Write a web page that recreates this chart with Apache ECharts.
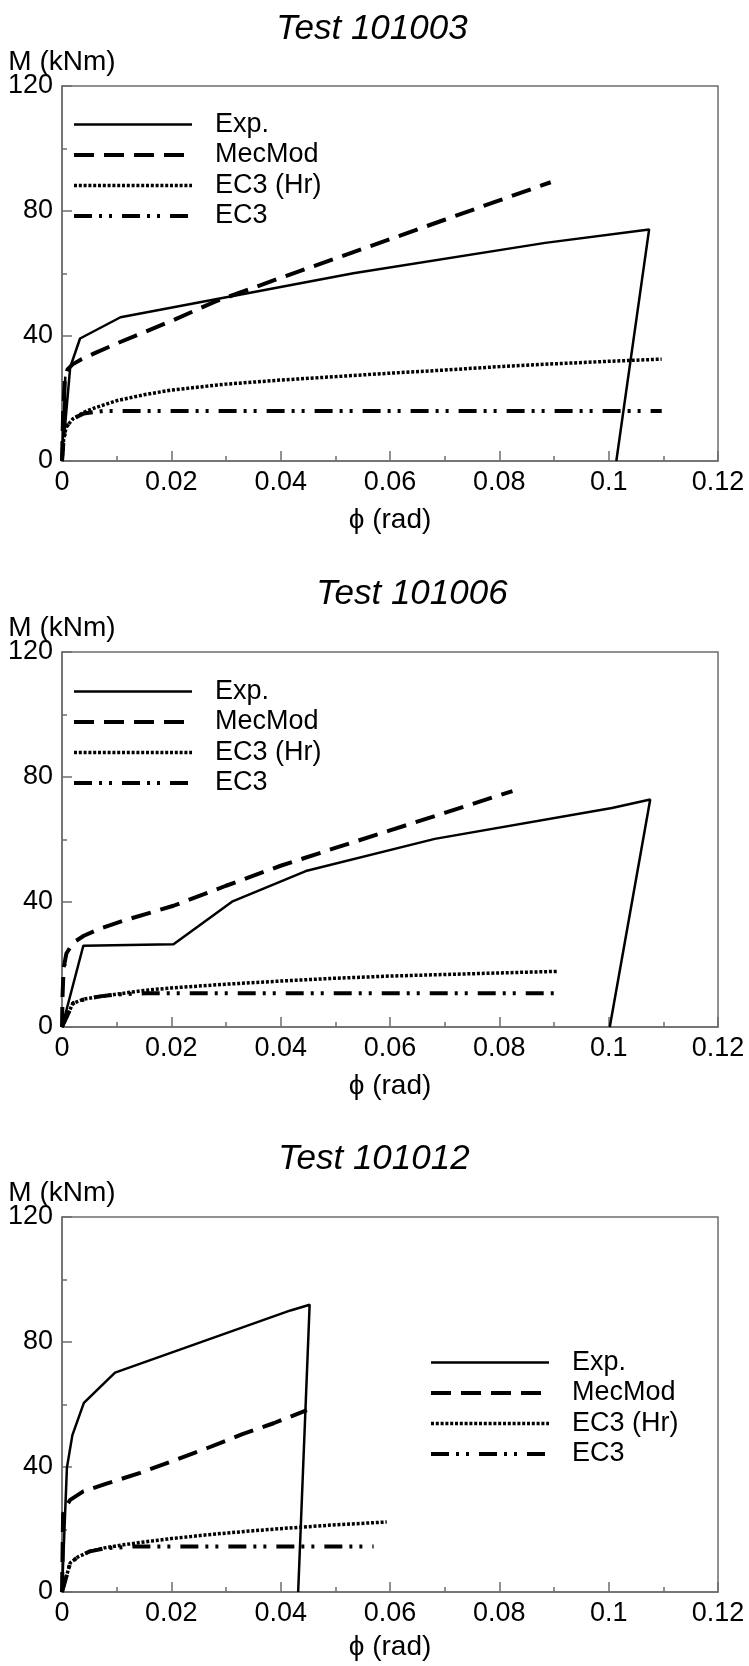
<!DOCTYPE html>
<html>
<head>
<meta charset="utf-8">
<script src="https://cdn.jsdelivr.net/npm/echarts@6/dist/echarts.min.js"></script>
<style>
  html, body { margin: 0; padding: 0; background: #fff; }
  #main { width: 749px; height: 1666px; }
</style>
</head>
<body>
<div id="main"></div>
<script>
// ---- data (phi in rad, M in kNm) ----
var titles = ['Test 101003', 'Test 101006', 'Test 101012'];
var seriesNames = ['Exp.', 'MecMod', 'EC3 (Hr)', 'EC3'];
var xTicks = [0, 0.02, 0.04, 0.06, 0.08, 0.1, 0.12];
var yTicks = [0, 40, 80, 120];

// Test 101003
var exp101003 = [[0,0],[0.0006,27],[0.0004,8],[0.0015,30],[0.0033,39.2],[0.0107,46],[0.0533,60.1],[0.0884,69.8],[0.1074,74.1],[0.1014,0]];
var mec101003 = [[0,0],[0.0002,15],[0.0005,26],[0.001,29.3],[0.002,31],[0.0035,32.5],[0.006,34.5],[0.01,37.6],[0.015,41.2],[0.02,44.8],[0.028,51],[0.04,58.6],[0.05,64.8],[0.06,71],[0.07,77.2],[0.08,83.4],[0.0894,89.2]];
var hr101003 = [[0,0],[0.0003,7],[0.0008,11],[0.002,13.5],[0.004,15.6],[0.006,17],[0.01,19.3],[0.015,21.2],[0.02,22.7],[0.03,24.6],[0.04,25.9],[0.05,27],[0.06,28.1],[0.07,29.1],[0.08,30.2],[0.09,31.1],[0.1,31.9],[0.1097,32.6]];
var ec3101003 = [[0,0],[0.0003,7],[0.0008,11],[0.002,13.5],[0.004,15.2],[0.0075,16],[0.1097,16]];

// Test 101006
var exp101006 = [[0,0],[0.0039,26],[0.0204,26.5],[0.0311,40.1],[0.0446,49.9],[0.0682,60.2],[0.1006,70.1],[0.1076,72.8],[0.1002,0]];
var mec101006 = [[0,0],[0.0001,10],[0.0003,19],[0.0008,23.5],[0.0015,25.5],[0.0025,27.5],[0.004,29.2],[0.007,31.5],[0.0112,34],[0.0204,38.8],[0.03,45.2],[0.04,51.6],[0.05,57.3],[0.06,62.9],[0.07,68.5],[0.0824,75.5]];
var hr101006 = [[0,0],[0.002,7.6],[0.004,8.9],[0.007,9.8],[0.01,10.5],[0.015,11.7],[0.02,12.5],[0.03,13.7],[0.04,14.7],[0.05,15.6],[0.06,16.3],[0.07,16.8],[0.08,17.3],[0.0905,17.8]];
var ec3101006 = [[0,0],[0.002,7.6],[0.004,8.8],[0.007,9.8],[0.01,10.4],[0.0154,10.8],[0.09,10.8]];

// Test 101012
var exp101012 = [[0,0],[0.0009,39.8],[0.0019,50.2],[0.004,60.5],[0.0097,70.2],[0.0418,90.1],[0.0453,91.9],[0.0432,0]];
var mec101012 = [[0,0],[0.0001,12],[0.0002,25],[0.0008,27.5],[0.0015,29.5],[0.0039,32.2],[0.008,34.6],[0.0143,38.1],[0.02,41.8],[0.0265,46],[0.033,50.5],[0.0387,54],[0.0448,58.2]];
var hr101012 = [[0,0],[0.0015,9.3],[0.003,11.3],[0.0051,13],[0.008,14.2],[0.0112,15.1],[0.015,16],[0.02,17.1],[0.0265,18.3],[0.035,19.6],[0.0417,20.5],[0.05,21.5],[0.0594,22.4]];
var ec3101012 = [[0,0],[0.0015,9.3],[0.003,11.3],[0.0051,13],[0.008,14],[0.0134,14.6],[0.057,14.6]];

var allData = [
    [exp101003, mec101003, hr101003, ec3101003],
    [exp101006, mec101006, hr101006, ec3101006],
    [exp101012, mec101012, hr101012, ec3101012]
];

// ---- layout ----
var FONT = 'Liberation Sans, Arial, Helvetica, sans-serif';
var gridTops = [86, 652, 1217];
var titlePos = [[372, 12], [412, 577], [374, 1142]];
var legendPos = [[72, 111], [72, 678], [429, 1349]];
var xNameGaps = [45, 45, 41];
var axisGray = '#6e6e6e';

var lineStyles = [
    { width: 2.5, type: 'solid' },
    { width: 4, type: [20, 10] },
    { width: 3.5, type: [3, 1.8] },
    { width: 4, type: [18, 7, 3, 7, 3, 10] }
];

var chart = echarts.init(document.getElementById('main'));

var option = {
    animation: false,
    backgroundColor: '#fff',
    title: [],
    legend: [],
    grid: [],
    xAxis: [],
    yAxis: [],
    series: []
};

var legendData = seriesNames.map(function (n, k) {
    return {
        name: n,
        lineStyle: { color: '#000', width: lineStyles[k].width, type: lineStyles[k].type },
        itemStyle: { opacity: 0 }
    };
});

for (var i = 0; i < 3; i++) {
    option.title.push({
        text: titles[i],
        left: titlePos[i][0],
        top: titlePos[i][1],
        textAlign: 'center',
        padding: 0,
        textStyle: { fontFamily: FONT, fontSize: 35, fontStyle: 'italic', fontWeight: 'normal', color: '#000' }
    });
    option.grid.push({
        left: 62, top: gridTops[i], width: 656, height: 375,
        show: true, borderColor: axisGray, borderWidth: 1.5, backgroundColor: 'transparent'
    });
    option.xAxis.push({
        type: 'value', gridIndex: i, min: xTicks[0], max: xTicks[xTicks.length - 1], interval: 0.02,
        name: 'ϕ (rad)', nameLocation: 'middle', nameGap: xNameGaps[i], nameMoveOverlap: false,
        nameTextStyle: { fontFamily: FONT, fontSize: 28, color: '#000' },
        axisLine: { show: true, lineStyle: { color: axisGray, width: 1.5 } },
        axisTick: { show: true, inside: true, length: 10, lineStyle: { color: axisGray, width: 1.5 } },
        minorTick: { show: true, splitNumber: 2, length: 5, lineStyle: { color: axisGray, width: 1.5 } },
        splitLine: { show: false },
        axisLabel: { fontFamily: FONT, fontSize: 27, color: '#000', margin: 8,
            formatter: function (v) { return String(+v.toFixed(2)); } }
    });
    option.yAxis.push({
        type: 'value', gridIndex: i, min: yTicks[0], max: yTicks[yTicks.length - 1], interval: 40,
        name: 'M (kNm)', nameLocation: 'end', nameGap: 10, nameMoveOverlap: false,
        nameTextStyle: { fontFamily: FONT, fontSize: 28, color: '#000' },
        axisLine: { show: true, lineStyle: { color: axisGray, width: 1.5 } },
        axisTick: { show: true, inside: true, length: 10, lineStyle: { color: axisGray, width: 1.5 } },
        minorTick: { show: true, splitNumber: 2, length: 5, lineStyle: { color: axisGray, width: 1.5 } },
        splitLine: { show: false },
        axisLabel: { fontFamily: FONT, fontSize: 27, color: '#000', margin: 9 }
    });
    option.legend.push({
        orient: 'vertical',
        left: legendPos[i][0],
        top: legendPos[i][1],
        padding: 0,
        itemWidth: 118,
        itemHeight: 14,
        itemGap: 3.5,
        selectedMode: false,
        data: legendData,
        textStyle: { fontFamily: FONT, fontSize: 27, lineHeight: 27, color: '#000', padding: [0, 0, 0, 18] }
    });
    for (var s = 0; s < 4; s++) {
        option.series.push({
            name: seriesNames[s],
            type: 'line',
            xAxisIndex: i,
            yAxisIndex: i,
            symbol: 'none',
            showSymbol: false,
            lineStyle: { color: '#000', width: lineStyles[s].width, type: lineStyles[s].type },
            itemStyle: { color: '#000' },
            data: allData[i][s]
        });
    }
}

chart.setOption(option);
</script>
</body>
</html>
